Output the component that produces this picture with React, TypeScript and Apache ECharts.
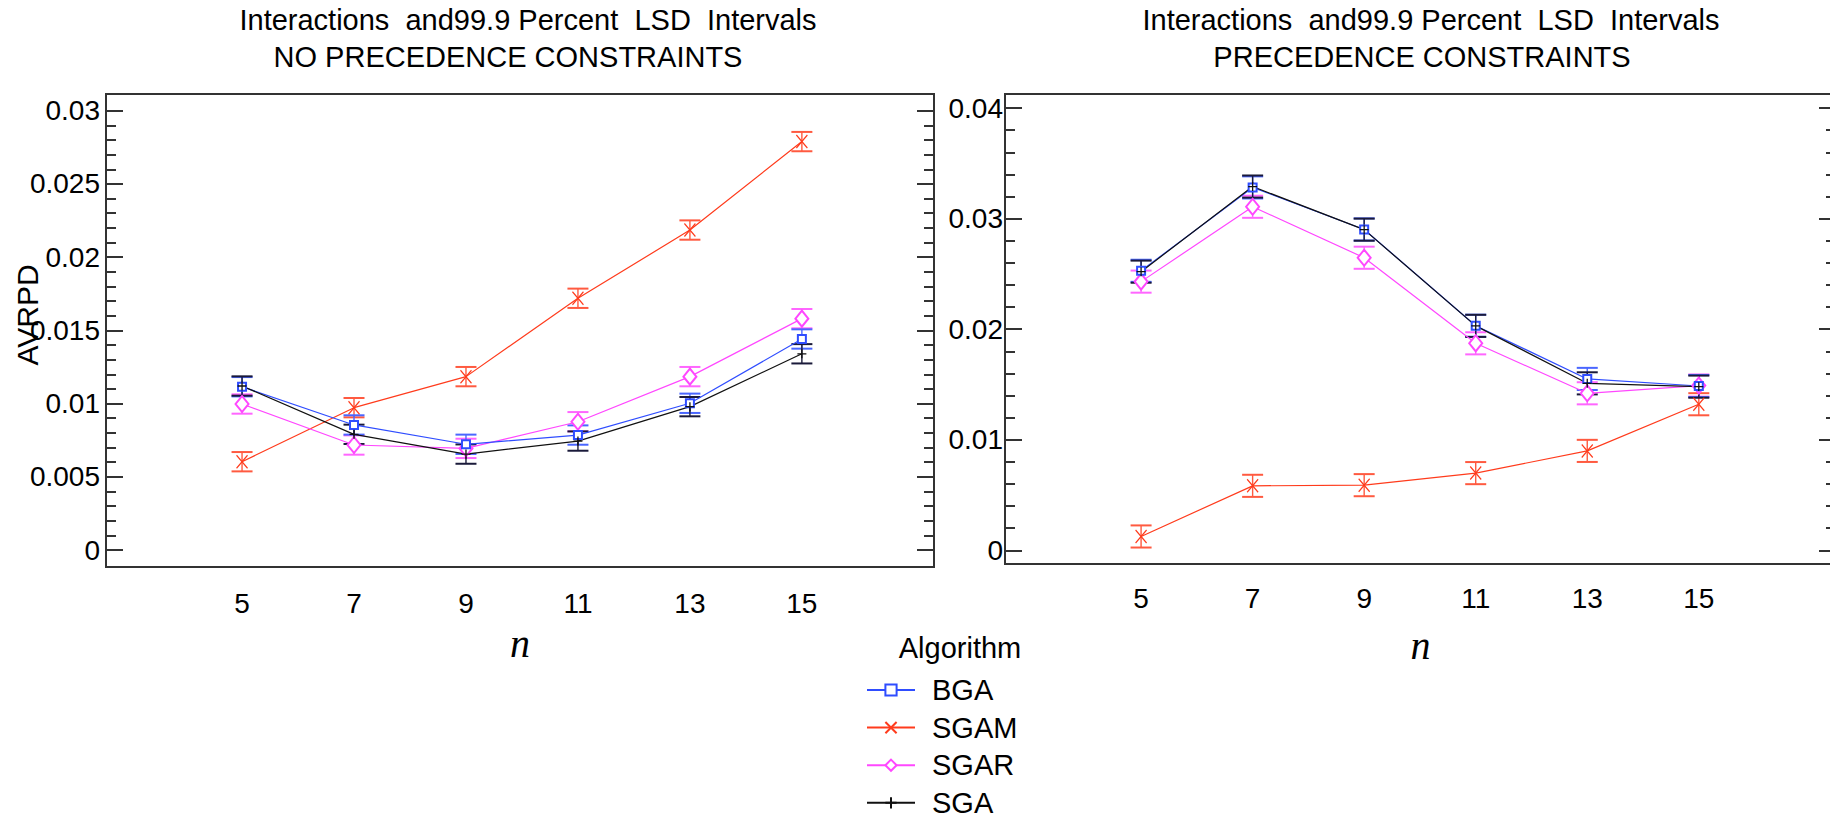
import React, { useEffect, useRef } from "react";
import * as echarts from "echarts";

// ---------- data ----------
const N_VALUES = [5, 7, 9, 11, 13, 15];
const SERIES_NAMES = ["BGA", "SGAM", "SGAR", "SGA"];

// Left panel: NO PRECEDENCE CONSTRAINTS
const npcBGA = [0.01115, 0.00854, 0.00722, 0.00785, 0.01002, 0.01441];
const npcSGAM = [0.00603, 0.00972, 0.01184, 0.01719, 0.02185, 0.02789];
const npcSGAR = [0.00997, 0.00717, 0.00694, 0.00876, 0.01184, 0.0158];
const npcSGA = [0.0112, 0.0079, 0.00655, 0.00744, 0.00979, 0.0134];
const NPC_LSD_HALF = 0.00066;

// Right panel: PRECEDENCE CONSTRAINTS
const pcBGA = [0.02528, 0.03282, 0.02902, 0.02031, 0.0155, 0.01486];
const pcSGAM = [0.00125, 0.00583, 0.00589, 0.00698, 0.00899, 0.01321];
const pcSGAR = [0.0243, 0.03107, 0.02646, 0.01872, 0.0142, 0.0149];
const pcSGA = [0.0252, 0.0329, 0.029, 0.0203, 0.0151, 0.0148];
const PC_LSD_HALF = 0.001;

// tick values
const X_TICKS = [5, 7, 9, 11, 13, 15];
const NPC_Y_MAJOR = [0, 0.005, 0.01, 0.015, 0.02, 0.025, 0.03];
const NPC_Y_LABELS = ["0", "0.005", "0.01", "0.015", "0.02", "0.025", "0.03"];
const NPC_Y_MINOR = [
  0.001, 0.002, 0.003, 0.004, 0.006, 0.007, 0.008, 0.009, 0.011, 0.012, 0.013, 0.014,
  0.016, 0.017, 0.018, 0.019, 0.021, 0.022, 0.023, 0.024, 0.026, 0.027, 0.028, 0.029,
];
const PC_Y_MAJOR = [0, 0.01, 0.02, 0.03, 0.04];
const PC_Y_LABELS = ["0", "0.01", "0.02", "0.03", "0.04"];
const PC_Y_MINOR = [
  0.002, 0.004, 0.006, 0.008, 0.012, 0.014, 0.016, 0.018, 0.022, 0.024, 0.026, 0.028,
  0.032, 0.034, 0.036, 0.038,
];

const TITLE_LINE1 = "Interactions  and99.9 Percent  LSD  Intervals";
const TITLE_LEFT2 = "NO PRECEDENCE CONSTRAINTS";
const TITLE_RIGHT2 = "PRECEDENCE CONSTRAINTS";

// ---------- styles ----------
const SANS = "'Liberation Sans', Arial, Helvetica, sans-serif";
const SERIF = "'Liberation Serif', 'Times New Roman', serif";
const COLORS: Record<string, string> = {
  BGA: "#2f4dff",
  SGAM: "#ff3b1c",
  SGAR: "#ff47ff",
  SGA: "#111111",
};
const BAR_COLORS: Record<string, string> = {
  BGA: "#4a66ff",
  SGAM: "#ff5a40",
  SGAR: "#ff66ff",
  SGA: "#1a1a3a",
};
const SYMBOLS: Record<string, any> = {
  BGA: { symbol: "emptyRect", symbolSize: 8 },
  SGAM: { symbol: "path://M0,0L10,10M10,0L0,10", symbolSize: [11, 13] },
  SGAR: { symbol: "emptyDiamond", symbolSize: [13, 16] },
  SGA: { symbol: "path://M5,0L5,10M0,5L10,5", symbolSize: 9 },
};

function lineSeries(name: string, values: number[], axisIdx: number, yIdx: number) {
  const c = COLORS[name];
  return {
    type: "line",
    name,
    xAxisIndex: axisIdx,
    yAxisIndex: yIdx,
    data: N_VALUES.map((n, i) => [n, values[i]]),
    ...SYMBOLS[name],
    showSymbol: true,
    lineStyle: { color: c, width: 1.2 },
    itemStyle: { color: c, borderColor: c, borderWidth: 1.3 },
    z: 3,
    silent: true,
  };
}

function barSeries(name: string, values: number[], axisIdx: number, yIdx: number, h: number) {
  const c = BAR_COLORS[name];
  return {
    type: "custom",
    name: name + " LSD",
    xAxisIndex: axisIdx,
    yAxisIndex: yIdx,
    data: N_VALUES.map((n, i) => [n, values[i]]),
    encode: { x: 0, y: 1 },
    z: 2,
    silent: true,
    renderItem: (_params: any, api: any) => {
      const x = api.value(0);
      const y = api.value(1);
      const top = api.coord([x, y + h]);
      const bot = api.coord([x, y - h]);
      const w = 10.5;
      const vs = { stroke: c, lineWidth: 1.4 };
      const cs = { stroke: c, lineWidth: 2 };
      return {
        type: "group",
        children: [
          { type: "line", shape: { x1: top[0], y1: top[1], x2: bot[0], y2: bot[1] }, style: vs },
          { type: "line", shape: { x1: top[0] - w, y1: top[1], x2: top[0] + w, y2: top[1] }, style: cs },
          { type: "line", shape: { x1: bot[0] - w, y1: bot[1], x2: bot[0] + w, y2: bot[1] }, style: cs },
        ],
      };
    },
  };
}

function yAxes(gridIndex: number, min: number, max: number, major: number[], labels: string[], minor: number[], labelMargin: number) {
  const base = {
    type: "value",
    gridIndex,
    min,
    max,
    axisLine: { show: false },
    splitLine: { show: false },
  };
  const tickStyle = { color: "#333", width: 2 };
  return [
    {
      ...base,
      position: "left",
      axisLabel: {
        show: true,
        customValues: major,
        formatter: (v: number) => {
          const i = major.findIndex((m) => Math.abs(m - v) < 1e-9);
          return i >= 0 ? labels[i] : "";
        },
        fontSize: 28,
        fontFamily: SANS,
        color: "#000",
        margin: labelMargin,
      },
      axisTick: { show: true, inside: true, length: 17, customValues: major, lineStyle: tickStyle },
    },
    {
      ...base,
      position: "left",
      axisLabel: { show: false, customValues: minor },
      axisTick: { show: true, inside: true, length: 10, customValues: minor, lineStyle: tickStyle },
    },
    {
      ...base,
      position: "right",
      axisLabel: { show: false, customValues: major },
      axisTick: { show: true, inside: true, length: 17, customValues: major, lineStyle: tickStyle },
    },
    {
      ...base,
      position: "right",
      axisLabel: { show: false, customValues: minor },
      axisTick: { show: true, inside: true, length: 10, customValues: minor, lineStyle: tickStyle },
    },
  ];
}

function xAxis(gridIndex: number, min: number, max: number, margin: number, nameGap: number) {
  return {
    type: "value",
    gridIndex,
    min,
    max,
    axisLine: { show: false },
    splitLine: { show: false },
    axisTick: { show: false },
    axisLabel: {
      customValues: X_TICKS,
      fontSize: 28,
      fontFamily: SANS,
      color: "#000",
      margin,
    },
    name: "n",
    nameLocation: "middle",
    nameGap,
    nameTextStyle: { fontFamily: SERIF, fontStyle: "italic", fontSize: 40, color: "#000" },
  };
}

export default function App() {
  const ref = useRef<HTMLDivElement>(null);

  useEffect(() => {
    if (!ref.current) return;
    const chart = echarts.init(ref.current, null, { renderer: "svg" });

    const titleStyle = { fontSize: 29, fontWeight: "normal" as const, fontFamily: SANS, color: "#000" };

    const option: any = {
      animation: false,
      backgroundColor: "#fff",
      title: [
        { text: TITLE_LINE1, left: 528, top: 5, textAlign: "center", textStyle: titleStyle, padding: 0 },
        { text: TITLE_LEFT2, left: 508, top: 42, textAlign: "center", textStyle: titleStyle, padding: 0 },
        { text: TITLE_LINE1, left: 1431, top: 5, textAlign: "center", textStyle: titleStyle, padding: 0 },
        { text: TITLE_RIGHT2, left: 1422, top: 42, textAlign: "center", textStyle: titleStyle, padding: 0 },
      ],
      grid: [
        { left: 106, top: 94, width: 828, height: 473, show: true, borderColor: "#333", borderWidth: 2, backgroundColor: "transparent", containLabel: false, outerBoundsMode: "none" },
        { left: 1005, top: 94, width: 831, height: 470, show: true, borderColor: "#333", borderWidth: 2, backgroundColor: "transparent", containLabel: false, outerBoundsMode: "none" },
      ],
      xAxis: [xAxis(0, 2.57, 17.36, 22, 56), xAxis(1, 2.56, 17.46, 20, 61)],
      yAxis: [
        ...yAxes(0, -0.00116, 0.03114, NPC_Y_MAJOR, NPC_Y_LABELS, NPC_Y_MINOR, 6),
        ...yAxes(1, -0.00124, 0.04127, PC_Y_MAJOR, PC_Y_LABELS, PC_Y_MINOR, 2),
      ],
      legend: {
        data: SERIES_NAMES,
        orient: "vertical",
        left: 866,
        top: 675,
        padding: 0,
        itemWidth: 48,
        itemHeight: 14,
        itemGap: 7.6,
        selectedMode: false,
        textStyle: { fontSize: 29, fontFamily: SANS, color: "#000", lineHeight: 30, padding: [0, 0, 0, 12] },
      },
      graphic: [
        {
          type: "text",
          x: 960,
          y: 648,
          style: { text: "Algorithm", fontSize: 29, fontFamily: SANS, fill: "#000", align: "center", verticalAlign: "middle" },
        },
        {
          type: "text",
          x: 27,
          y: 315,
          rotation: Math.PI / 2,
          style: { text: "AVRPD", fontSize: 30, fontFamily: SANS, fill: "#000", align: "center", verticalAlign: "middle" },
          z: 10,
        },
      ],
      series: [
        barSeries("SGAM", npcSGAM, 0, 0, NPC_LSD_HALF),
        barSeries("SGAR", npcSGAR, 0, 0, NPC_LSD_HALF),
        barSeries("BGA", npcBGA, 0, 0, NPC_LSD_HALF),
        barSeries("SGA", npcSGA, 0, 0, NPC_LSD_HALF),
        lineSeries("SGAM", npcSGAM, 0, 0),
        lineSeries("SGAR", npcSGAR, 0, 0),
        lineSeries("BGA", npcBGA, 0, 0),
        lineSeries("SGA", npcSGA, 0, 0),
        barSeries("SGAM", pcSGAM, 1, 4, PC_LSD_HALF),
        barSeries("SGAR", pcSGAR, 1, 4, PC_LSD_HALF),
        barSeries("BGA", pcBGA, 1, 4, PC_LSD_HALF),
        barSeries("SGA", pcSGA, 1, 4, PC_LSD_HALF),
        lineSeries("SGAM", pcSGAM, 1, 4),
        lineSeries("SGAR", pcSGAR, 1, 4),
        lineSeries("BGA", pcBGA, 1, 4),
        lineSeries("SGA", pcSGA, 1, 4),
      ],
    };

    chart.setOption(option);
    return () => chart.dispose();
  }, []);

  return (
    <div style={{ position: "fixed", left: 0, top: 0, width: 1830, height: 820, overflow: "hidden", background: "#fff" }}>
      <div ref={ref} style={{ width: 1830, height: 820 }} />
    </div>
  );
}
